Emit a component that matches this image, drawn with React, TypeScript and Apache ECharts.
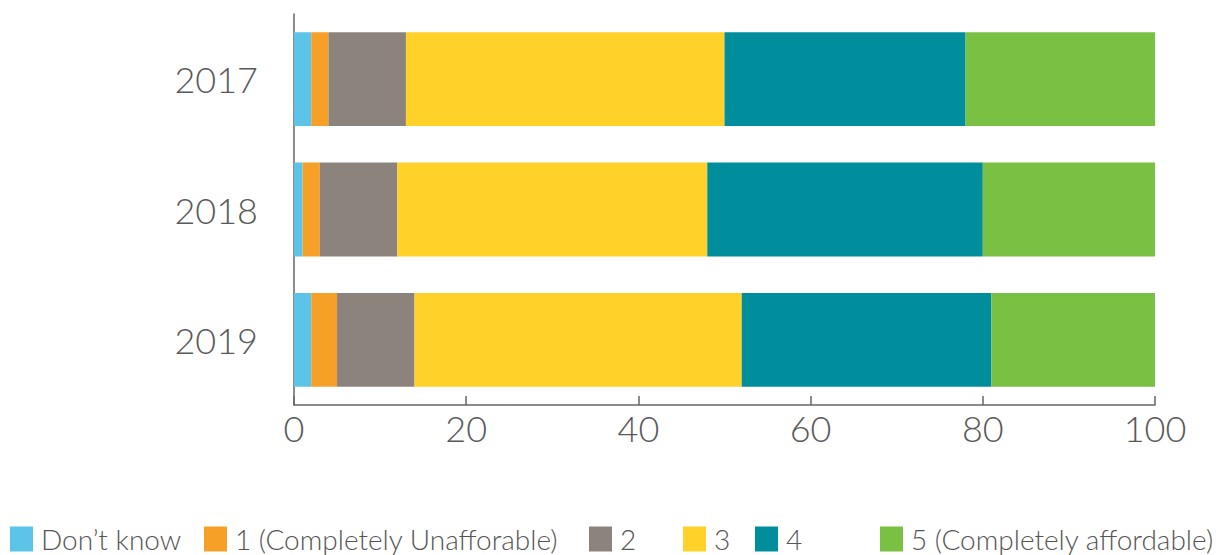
import React, { useEffect, useRef } from "react";
import * as echarts from "echarts";

const years = ["2017", "2018", "2019"];
const seriesNames = [
  "Don’t know",
  "1 (Completely Unafforable)",
  "2",
  "3",
  "4",
  "5 (Completely affordable)",
];
const dontKnow = [2, 1, 2];
const one = [2, 2, 3];
const two = [9, 9, 9];
const three = [37, 36, 38];
const four = [28, 32, 29];
const five = [22, 20, 19];
const seriesValues = [dontKnow, one, two, three, four, five];
const colors = ["#5BC4E8", "#F7A028", "#8C837C", "#FFD129", "#008E9C", "#7AC143"];
const xTicks = [0, 20, 40, 60, 80, 100];
const legendLefts = [10, 204, 589, 683, 755, 880];

export default function App() {
  const ref = useRef<HTMLDivElement>(null);
  useEffect(() => {
    if (!ref.current) return;
    const chart = echarts.init(ref.current, undefined, { renderer: "svg" });
    const font = "Lato, 'Open Sans', sans-serif";
    chart.setOption({
      animation: false,
      grid: { left: 294, right: 75, top: 14, bottom: 150, containLabel: false },
      legend: seriesNames.map((n, i) => ({
        data: [n],
        left: legendLefts[i],
        top: 524,
        padding: 0,
        itemWidth: 23,
        itemHeight: 25,
        itemGap: 0,
        icon: "rect",
        textStyle: { fontSize: 28, lineHeight: 30, color: "#555", fontFamily: font, fontWeight: 300, padding: [0, 0, 0, 3] },
        selectedMode: false,
      })),
      xAxis: {
        type: "value",
        min: xTicks[0],
        max: xTicks[xTicks.length - 1],
        interval: 20,
        axisLine: { show: true, lineStyle: { color: "#666", width: 1.5 } },
        axisTick: { show: true, inside: true, length: 9, lineStyle: { color: "#666", width: 1.5 } },
        splitLine: { show: false },
        axisLabel: { fontSize: 36, color: "#595959", fontFamily: font, fontWeight: 300, margin: 5 },
      },
      yAxis: {
        type: "category",
        data: years,
        inverse: true,
        axisLine: { show: true, lineStyle: { color: "#666", width: 1.5 } },
        axisTick: { show: false },
        axisLabel: { fontSize: 36, color: "#595959", fontFamily: font, fontWeight: 300, margin: 36 },
      },
      series: seriesNames.map((n, i) => ({
        name: n,
        type: "bar",
        stack: "total",
        data: seriesValues[i],
        barCategoryGap: "28%",
        itemStyle: { color: colors[i] },
      })),
    });
    return () => chart.dispose();
  }, []);
  return <div ref={ref} style={{ width: 1230, height: 555, position: "absolute", left: 0, top: 0 }} />;
}
